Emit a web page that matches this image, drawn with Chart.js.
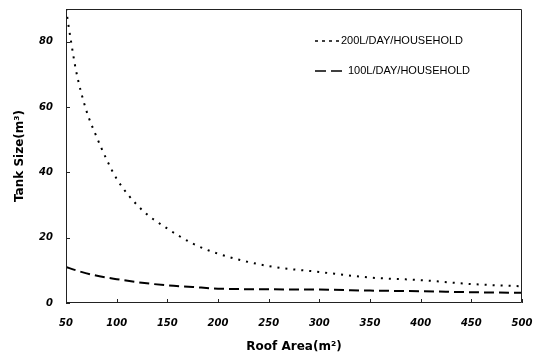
<!DOCTYPE html>
<html>
<head>
<meta charset="utf-8">
<script src="https://cdn.jsdelivr.net/npm/chart.js@4/dist/chart.umd.min.js"></script>
<style>
  body { margin: 0; background: #fff; }
  #wrap { width: 534px; height: 354px; }
</style>
</head>
<body>
<div id="wrap"><canvas id="tankChart"></canvas></div>
<script>
// roof area (m2) and tank size (m3)
const roofArea200 = [50, 55, 60, 70, 80, 90, 100, 125, 150, 175, 200, 250, 300, 350, 400, 450, 500];
const tank200 = [90, 80, 71, 59, 51, 44, 38, 28.5, 22.8, 18.2, 15.1, 11.3, 9.5, 7.8, 7.0, 5.8, 5.1];
const roofArea100 = [50, 60, 75, 100, 125, 150, 175, 200, 250, 300, 350, 400, 450, 500];
const tank100 = [11, 10, 8.7, 7.3, 6.2, 5.4, 4.9, 4.4, 4.2, 4.1, 3.8, 3.6, 3.3, 3.1];
const xTicks = [50, 100, 150, 200, 250, 300, 350, 400, 450, 500];
const yTicks = [0, 20, 40, 60, 80];

function toPoints(xs, ys) {
    return xs.map(function (x, i) { return { x: x, y: ys[i] }; });
}

// frame, inner tick marks and the legend in the top right of the plot
const framePlugin = {
    id: "frame",
    afterDraw: function (chart) {
        const c = chart.ctx;
        const a = chart.chartArea;
        const xs = chart.scales.x;
        const ys = chart.scales.y;
        c.save();
        c.setLineDash([]);
        c.strokeStyle = "#222";
        c.lineWidth = 1;
        c.beginPath();
        c.rect(Math.round(a.left) + 0.5, Math.round(a.top) + 0.5,
            Math.round(a.right - a.left) - 1, Math.round(a.bottom - a.top) - 1);
        xTicks.forEach(function (v) {
            const px = Math.round(xs.getPixelForValue(v)) + 0.5;
            c.moveTo(px, a.bottom);
            c.lineTo(px, a.bottom - 4);
        });
        yTicks.forEach(function (v) {
            const py = Math.round(ys.getPixelForValue(v)) + 0.5;
            c.moveTo(a.left, py);
            c.lineTo(a.left + 4, py);
        });
        c.stroke();

        // legend
        c.font = "11px 'Liberation Sans', Arial, sans-serif";
        c.fillStyle = "#000";
        c.textBaseline = "middle";
        chart.data.datasets.forEach(function (ds, i) {
            const y = a.top + 32 + i * 30;
            const x0 = a.left + 249;
            const len = i === 0 ? 24 : 31;
            c.beginPath();
            c.setLineDash(i === 0 ? [3, 4] : [11, 5]);
            c.lineWidth = 1.5;
            c.strokeStyle = "#000";
            c.moveTo(x0, y);
            c.lineTo(x0 + len, y);
            c.stroke();
            c.setLineDash([]);
            c.fillText(ds.label, x0 + len + 2, y);
        });
        c.restore();
    }
};

const ctx = document.getElementById("tankChart").getContext("2d");
new Chart(ctx, {
    type: "line",
    data: {
        datasets: [
            {
                label: "200L/DAY/HOUSEHOLD",
                data: toPoints(roofArea200, tank200),
                borderColor: "#000",
                borderWidth: 2,
                borderDash: [2, 6],
                pointRadius: 0,
                cubicInterpolationMode: "monotone",
                fill: false,
            },
            {
                label: "100L/DAY/HOUSEHOLD",
                data: toPoints(roofArea100, tank100),
                borderColor: "#000",
                borderWidth: 2,
                borderDash: [10, 5],
                pointRadius: 0,
                cubicInterpolationMode: "monotone",
                fill: false,
            },
        ],
    },
    options: {
        responsive: true,
        maintainAspectRatio: false,
        animation: false,
        layout: { padding: { top: 9, right: 12, left: 0, bottom: 0 } },
        plugins: {
            legend: { display: false },
            tooltip: { enabled: false },
        },
        scales: {
            x: {
                type: "linear",
                min: 50,
                max: 500,
                afterBuildTicks: function (s) { s.ticks = xTicks.map(function (v) { return { value: v }; }); },
                afterFit: function (s) { s.height = 51; s.paddingLeft = 0; s.paddingRight = 0; },
                grid: { display: false },
                border: { display: false },
                ticks: {
                    color: "#000",
                    padding: 6,
                    maxRotation: 0,
                    font: { family: "'DejaVu Sans', sans-serif", size: 10, weight: "bold", style: "italic" },
                },
                title: {
                    display: true,
                    text: "Roof Area(m²)",
                    color: "#000",
                    padding: { top: 3, bottom: 0 },
                    font: { family: "'DejaVu Sans', sans-serif", size: 12, weight: "bold" },
                },
            },
            y: {
                min: 0,
                max: 90,
                afterBuildTicks: function (s) { s.ticks = yTicks.map(function (v) { return { value: v }; }); },
                afterFit: function (s) { s.width = 66; s.paddingTop = 0; s.paddingBottom = 0; },
                grid: { display: false },
                border: { display: false },
                ticks: {
                    color: "#000",
                    padding: 5,
                    font: { family: "'DejaVu Sans', sans-serif", size: 10, weight: "bold", style: "italic" },
                },
                title: {
                    display: true,
                    text: "Tank Size(m³)",
                    color: "#000",
                    padding: { top: 13, bottom: 0 },
                    font: { family: "'DejaVu Sans', sans-serif", size: 12, weight: "bold" },
                },
            },
        },
    },
    plugins: [framePlugin],
});
</script>
</body>
</html>
